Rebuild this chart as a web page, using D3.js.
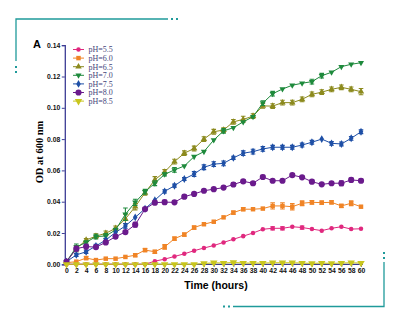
<!DOCTYPE html>
<html>
<head>
<meta charset="utf-8">
<script src="https://cdn.jsdelivr.net/npm/d3@7"></script>
<style>
  body { margin: 0; background: #fff; }
  svg { display: block; }
</style>
</head>
<body>
<div id="chart"></div>
<script>
// time points (hours)
var hours = d3.range(0, 61, 2);

var seriesNames = ["pH=5.5", "pH=6.0", "pH=6.5", "pH=7.0", "pH=7.5", "pH=8.0", "pH=8.5"];

// OD600 readings, one array per pH
var ph55 = [0, 0, 0, 0, 0, 0, 0, 0, 0, 0.002, 0.0033, 0.005, 0.0067, 0.0087, 0.0104, 0.012, 0.014, 0.016, 0.018, 0.020, 0.0224, 0.023, 0.023, 0.024, 0.0235, 0.0225, 0.0215, 0.023, 0.024, 0.0225, 0.0227];
var ph60 = [0.001, 0.0017, 0.004, 0.0027, 0.0036, 0.0036, 0.0047, 0.0058, 0.0091, 0.008, 0.0111, 0.0164, 0.019, 0.0235, 0.0256, 0.0272, 0.030, 0.033, 0.0352, 0.0352, 0.0356, 0.0373, 0.0373, 0.0368, 0.039, 0.0396, 0.0394, 0.0396, 0.0373, 0.039, 0.0368];
var ph65 = [0.0017, 0.010, 0.0155, 0.018, 0.0198, 0.023, 0.029, 0.0368, 0.0457, 0.054, 0.059, 0.0656, 0.071, 0.074, 0.080, 0.0847, 0.0858, 0.091, 0.0926, 0.0947, 0.1012, 0.1011, 0.1033, 0.1033, 0.1054, 0.1086, 0.110, 0.1118, 0.1131, 0.1118, 0.1103];
var ph70 = [0.0017, 0.011, 0.014, 0.0177, 0.0181, 0.022, 0.032, 0.0396, 0.0464, 0.0518, 0.0575, 0.0603, 0.0628, 0.0688, 0.072, 0.0794, 0.0852, 0.0873, 0.091, 0.0943, 0.103, 0.109, 0.112, 0.1144, 0.1157, 0.1167, 0.1205, 0.1227, 0.1263, 0.1278, 0.1288];
var ph75 = [0.0017, 0.006, 0.008, 0.0117, 0.0155, 0.0204, 0.0245, 0.030, 0.0355, 0.041, 0.0466, 0.0502, 0.0545, 0.0577, 0.062, 0.064, 0.0645, 0.068, 0.071, 0.072, 0.0737, 0.0748, 0.0748, 0.0748, 0.0762, 0.078, 0.080, 0.0773, 0.0769, 0.0805, 0.0847];
var ph80 = [0.0017, 0.010, 0.0113, 0.011, 0.014, 0.0177, 0.0206, 0.0253, 0.0353, 0.0394, 0.0397, 0.0396, 0.0432, 0.045, 0.047, 0.048, 0.049, 0.051, 0.053, 0.0518, 0.0558, 0.0534, 0.0534, 0.057, 0.0556, 0.0528, 0.0511, 0.0518, 0.0518, 0.0539, 0.0534];
var ph85 = [0, 0, 0, 0, 0, 0, 0, 0, 0, 0, 0, 0, 0, 0, 0.0005, 0.001, 0.0008, 0.0012, 0.0008, 0.0008, 0.0008, 0.001, 0.001, 0.001, 0.0008, 0.0006, 0.0008, 0.0006, 0.0008, 0.001, 0.0008];

// standard errors
var err55 = [0, 0, 0, 0, 0, 0, 0, 0, 0, 0, 0, 0, 0, 0, 0, 0, 0, 0, 0, 0, 0, 0.001, 0.001, 0, 0.001, 0, 0, 0, 0, 0, 0];
var err60 = [0, 0, 0.001, 0, 0, 0, 0, 0.001, 0.001, 0.001, 0.0015, 0.001, 0.001, 0.001, 0, 0, 0, 0.001, 0.001, 0, 0, 0.002, 0.002, 0.002, 0.0015, 0.0012, 0.001, 0.001, 0.001, 0.0015, 0];
var err65 = [0, 0.002, 0.001, 0.0015, 0.0015, 0.0015, 0.003, 0.002, 0.0015, 0.002, 0.0015, 0.0015, 0.0015, 0.0015, 0.0015, 0.0015, 0.0015, 0.0015, 0.002, 0.0015, 0.0015, 0.0015, 0.0015, 0.0015, 0.0015, 0.0015, 0.0015, 0.0015, 0.0015, 0.0015, 0.002];
var err70 = [0, 0.002, 0.001, 0.0015, 0.0015, 0.001, 0.004, 0.002, 0.0015, 0.0015, 0.001, 0.0015, 0, 0, 0, 0, 0.0015, 0, 0, 0, 0.0015, 0.0015, 0, 0, 0, 0.0015, 0.0015, 0, 0, 0, 0];
var err75 = [0, 0.001, 0.001, 0.001, 0.001, 0, 0.0015, 0, 0, 0, 0.001, 0.001, 0.001, 0.0015, 0.0015, 0.0015, 0.0015, 0.001, 0.0015, 0.0015, 0.0015, 0.0012, 0.0012, 0.0012, 0.0012, 0.0012, 0, 0.0012, 0.0012, 0.0012, 0.0012];
var err80 = [0, 0.0015, 0.0015, 0.001, 0.001, 0.001, 0.001, 0.0015, 0.001, 0.001, 0.0012, 0, 0.001, 0, 0, 0, 0, 0.001, 0.001, 0.001, 0.001, 0, 0, 0.001, 0, 0.001, 0, 0, 0.0015, 0.0012, 0.001];
var err85 = [0, 0, 0, 0, 0, 0, 0, 0, 0, 0, 0, 0, 0, 0, 0, 0.0006, 0, 0.0006, 0, 0, 0, 0.0005, 0.0005, 0.0005, 0, 0, 0, 0, 0, 0.0005, 0];

var yTicks = [0, 0.02, 0.04, 0.06, 0.08, 0.10, 0.12, 0.14];

var colors = ["#e0287e", "#f08426", "#8c8a1e", "#1e8a3c", "#1e4fa6", "#6a1a8c", "#c9c61e"];
var shapes = [d3.symbolCircle, d3.symbolSquare, d3.symbolTriangle, "tdown", d3.symbolDiamond, d3.symbolCircle, "tdown"];
var sizes = [16, 20, 18, 16, 18, 30, 24];

var valueSets = [ph55, ph60, ph65, ph70, ph75, ph80, ph85];
var errSets = [err55, err60, err65, err70, err75, err80, err85];

var series = seriesNames.map(function(name, i) {
  return {
    name: name, color: colors[i], shape: shapes[i], size: sizes[i],
    values: hours.map(function(h, j) { return {h: h, v: valueSets[i][j], e: errSets[i][j]}; })
  };
});

var width = 400, height = 323;
var svg = d3.select("#chart").append("svg")
    .attr("width", width)
    .attr("height", height);

var axisColor = "#3c3c94";
var teal = "#1f9a9a";

// decorative brackets
svg.append("path").attr("d", "M16,61V19H168").attr("fill", "none").attr("stroke", teal).attr("stroke-width", 1.3);
svg.append("path").attr("d", "M233,306.5H384V262").attr("fill", "none").attr("stroke", teal).attr("stroke-width", 1.3);
[[172, 19], [177, 19], [16, 67], [16, 72], [224, 306.5], [229, 306.5], [384, 253], [384, 258]].forEach(function(p) {
  svg.append("rect").attr("x", p[0] - 1).attr("y", p[1] - 1).attr("width", 2).attr("height", 2).attr("fill", teal);
});

svg.append("text").attr("x", 33).attr("y", 47.5)
   .style("font-family", "Arial, 'Liberation Sans', sans-serif")
   .style("font-weight", "bold").style("font-size", "11px")
   .text("A");

var xScale = d3.scaleLinear().domain([0, 60]).range([66.5, 361]);
var yScale = d3.scaleLinear().domain([0, 0.14]).range([264.3, 45.2]);

// x axis
var xAxis = svg.append("g")
   .attr("transform", "translate(0," + yScale(0) + ")")
   .call(d3.axisBottom(xScale).tickValues(hours).tickSize(2.5).tickPadding(1.5).tickFormat(d3.format("d")));
xAxis.select(".domain").attr("d", "M64.8,0H363");

// y axis
var yAxis = svg.append("g")
   .attr("transform", "translate(64.8,0)")
   .call(d3.axisLeft(yScale).tickValues(yTicks).tickSize(3).tickPadding(1.5).tickFormat(d3.format(".2f")));

[xAxis, yAxis].forEach(function(ax) {
  ax.select(".domain").attr("stroke", axisColor).attr("stroke-width", 1.3);
  ax.selectAll(".tick line").attr("stroke", axisColor);
  ax.selectAll(".tick text")
    .attr("fill", "#111")
    .style("font-family", "Arial, 'Liberation Sans', sans-serif")
    .style("font-weight", "bold")
    .style("font-size", "6.8px");
});

svg.append("text")
   .attr("x", 216).attr("y", 289)
   .attr("text-anchor", "middle")
   .style("font-family", "Arial, 'Liberation Sans', sans-serif")
   .style("font-weight", "bold").style("font-size", "10.5px")
   .text("Time (hours)");

svg.append("text")
   .attr("transform", "translate(43,152) rotate(-90)")
   .attr("text-anchor", "middle")
   .style("font-family", "'Liberation Serif', 'Times New Roman', serif")
   .style("font-weight", "bold").style("font-size", "10.5px")
   .text("OD at 600 nm");

function markerPath(s) {
  var sym = s.shape === "tdown" ? d3.symbolTriangle : s.shape;
  return d3.symbol().type(sym).size(s.size)();
}

var line = d3.line()
   .x(function(d) { return xScale(d.h); })
   .y(function(d) { return yScale(d.v); });

var g = svg.selectAll(".series")
   .data(series)
   .enter().append("g")
   .attr("class", "series");

g.append("path")
   .attr("d", function(d) { return line(d.values); })
   .attr("fill", "none")
   .attr("stroke", function(d) { return d.color; })
   .attr("stroke-width", 1);

// error bars
g.each(function(s) {
  d3.select(this).selectAll(".eb")
     .data(s.values.filter(function(d) { return d.e > 0; }))
     .enter().append("path")
     .attr("class", "eb")
     .attr("fill", "none")
     .attr("stroke", s.color)
     .attr("stroke-width", 1.1)
     .attr("d", function(d) {
       var x = xScale(d.h), y1 = yScale(d.v + d.e), y2 = yScale(d.v - d.e);
       return "M" + (x - 2.3) + "," + y1 + "H" + (x + 2.3) + "M" + x + "," + y1 + "V" + y2 + "M" + (x - 2.3) + "," + y2 + "H" + (x + 2.3);
     });
});

// markers
g.each(function(s) {
  d3.select(this).selectAll(".pt")
     .data(s.values)
     .enter().append("path")
     .attr("class", "pt")
     .attr("d", markerPath(s))
     .attr("fill", s.color)
     .attr("transform", function(d) {
       return "translate(" + xScale(d.h) + "," + yScale(d.v) + ")" + (s.shape === "tdown" ? " rotate(180)" : "");
     });
});

// legend
var legend = svg.selectAll(".legend")
   .data(series)
   .enter().append("g")
   .attr("class", "legend")
   .attr("transform", function(d, i) { return "translate(73," + (49.5 + i * 8.6) + ")"; });

legend.append("line")
   .attr("x1", 0).attr("x2", 11)
   .attr("stroke", function(d) { return d.color; })
   .attr("stroke-width", 1);

legend.append("path")
   .attr("d", function(d) { return markerPath(d); })
   .attr("fill", function(d) { return d.color; })
   .attr("transform", function(d) { return "translate(5.5,0)" + (d.shape === "tdown" ? " rotate(180)" : ""); });

legend.append("text")
   .attr("x", 15.5).attr("y", 2.8)
   .attr("fill", "#44447a")
   .style("font-family", "'Liberation Serif', 'Times New Roman', serif")
   .style("font-size", "8px")
   .text(function(d) { return d.name; });
</script>
</body>
</html>
